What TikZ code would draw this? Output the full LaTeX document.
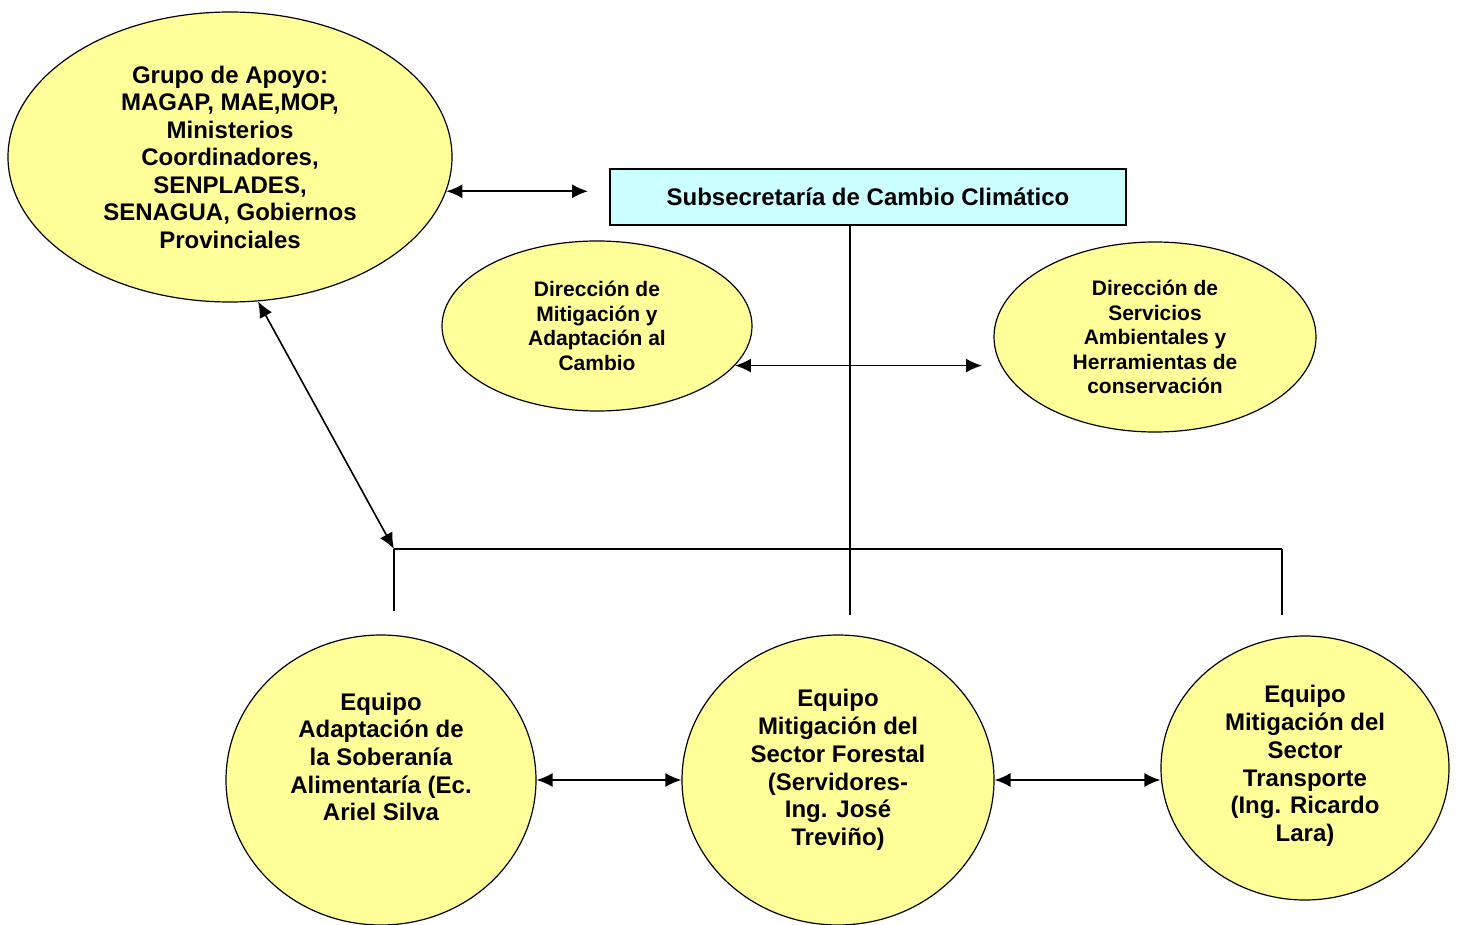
\documentclass[tikz,border=0pt]{standalone}
\usepackage{fontspec}
\setmainfont{Liberation Sans}
\usepackage{xcolor}
\usepackage{tikz}
\usetikzlibrary{shapes,arrows.meta,positioning,calc}

\definecolor{elliyellow}{HTML}{FFFF99}
\definecolor{boxcyan}{HTML}{CCFFFF}

\begin{document}
\begin{tikzpicture}[x=0.5pt, y=-0.5pt,
    elli/.style={ellipse, draw, line width=0.6pt, fill=elliyellow, inner sep=0pt, align=center,
        font=\bfseries\fontsize{12}{13.75}\selectfont},
    dirtext/.style={font=\bfseries\fontsize{10.5}{12.25}\selectfont},
    eqtext/.style={align=center, inner sep=0pt, font=\bfseries\fontsize{12}{13.85}\selectfont},
    subbox/.style={rectangle, draw, line width=0.6pt, fill=boxcyan, inner sep=0pt,
        font=\bfseries\fontsize{12}{14}\selectfont},
    conn/.style={line width=0.8pt},
    biarrow/.style={line width=0.8pt, {Latex[length=8pt,width=7pt]}-{Latex[length=8pt,width=7pt]}}
]
    \useasboundingbox (0,0) rectangle (1457,925);

    % Top level
    \node[elli, minimum width=222pt, minimum height=145pt] (apoyo) at (230,157)
        {Grupo de Apoyo:\\MAGAP, MAE,MOP,\\Ministerios\\Coordinadores,\\SENPLADES,\\SENAGUA, Gobiernos\\Provinciales};
    \node[subbox, minimum width=258pt, minimum height=28pt] (subsec) at (868,197)
        {Subsecretaría de Cambio Climático};

    % Direcciones
    \node[elli, dirtext, minimum width=155pt, minimum height=85pt] (dirMit) at (597,326)
        {Dirección de\\Mitigación y\\Adaptación al\\Cambio};
    \node[elli, dirtext, minimum width=161pt, minimum height=95pt] (dirServ) at (1155,337)
        {Dirección de\\Servicios\\Ambientales y\\Herramientas de\\conservación};

    % Equipos
    \node[elli, minimum width=155pt, minimum height=145pt] (eqAdap) at (381,780) {};
    \node[eqtext] (eqAdapTxt) at (381,757) {Equipo\\Adaptación de\\la Soberanía\\Alimentaría (Ec.\\Ariel Silva};
    \node[elli, minimum width=156pt, minimum height=145pt] (eqFor) at (838,780) {};
    \node[eqtext] (eqForTxt) at (838,770) {Equipo\\Mitigación del\\Sector Forestal\\(Servidores-\\Ing. José\\Treviño)};
    \node[elli, minimum width=144pt, minimum height=132pt] (eqTra) at (1305,768) {};
    \node[eqtext] (eqTraTxt) at (1305,766) {Equipo\\Mitigación del\\Sector\\Transporte\\(Ing. Ricardo\\Lara)};

    % Free ends
    \coordinate (subL) at (588,193);
    \coordinate (servL) at (982,366);
    \coordinate (busL) at (394,549);
    \coordinate (busR) at (1282,549);
    \coordinate (trunk) at (850,615);
    \coordinate (dropL) at (394,611);
    \coordinate (dropR) at (1282,615);

    % Connectors
    \draw[biarrow] (apoyo.-9.4) -- (apoyo.-9.4 -| subL);
    \draw[biarrow] (dirMit.-16.7) -- (dirMit.-16.7 -| servL);
    \draw[biarrow] (apoyo.-79) -- (busL);
    \draw[conn] (subsec.south -| trunk) -- (trunk);
    \draw[conn] (busL) -- (busR);
    \draw[conn] (busL) -- (dropL);
    \draw[conn] (busR) -- (dropR);
    \draw[biarrow] (eqAdap.east) -- (eqFor.west);
    \draw[biarrow] (eqFor.east) -- (eqFor.east -| eqTra.west);
\end{tikzpicture}
\end{document}
